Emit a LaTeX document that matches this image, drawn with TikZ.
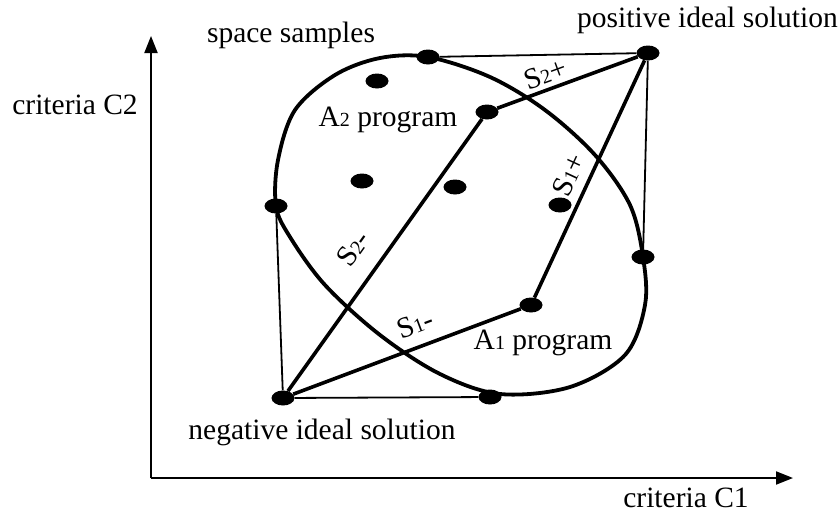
\documentclass[tikz,border=0pt]{standalone}
\usepackage{fontspec}
\setmainfont{Liberation Serif}
\usetikzlibrary{arrows.meta,shapes.geometric}

\newcommand{\idx}[1]{{\fontsize{20}{20}\selectfont #1}}

\begin{document}
\begin{tikzpicture}[
  x=1pt, y=-1pt,
  sample/.style={ellipse, fill=black, inner sep=0pt, minimum width=23pt, minimum height=15pt},
  lbl/.style={inner sep=0pt, font=\fontsize{29.5}{33}\selectfont},
  dist/.style={line width=3.6pt},
  hull/.style={line width=1.8pt},
  axis/.style={line width=2pt, -{Triangle[length=17pt,width=13pt]}}
]
\useasboundingbox (0,0) rectangle (840,515);

% axes
\coordinate (O) at (151,478);
\coordinate (xend) at (793,478);
\coordinate (yend) at (151,36);
\draw[axis] (O) -- (xend);
\draw[axis] (O) -- (yend);

% sample space boundary
\draw[line width=3.8pt] plot[smooth cycle, tension=0.55] coordinates {
  (428,57) (490,77) (545,110) (595,155) (630,205) (643,257) (645,305)
  (625,355) (570,387) (500,394) (440,374) (380,335) (325,285) (290,237)
  (276,206) (278,160) (295,110) (335,75) (380,58)};

% points
\node[sample] (pos) at (648,53) {};
\node[sample] (neg) at (283,398) {};
\node[sample] (top) at (428,57) {};
\node[sample] (left) at (276,206) {};
\node[sample] (right) at (643,257) {};
\node[sample] (bottom) at (490,397) {};
\node[sample] (prog2) at (487,112) {};
\node[sample] (prog1) at (531,305) {};
\node[sample] (s1) at (377,81) {};
\node[sample] (s2) at (362,181) {};
\node[sample] (s3) at (455,187) {};
\node[sample] (s4) at (560,205) {};

% box edges
\draw[hull] (top) -- (pos);
\draw[hull] (pos) -- (right);
\draw[hull] (left) -- (neg);
\draw[hull] (neg) -- (bottom);

% distances
\draw[dist] (prog2) -- node[lbl, pos=0.38, sloped, above=4pt] {S\idx{2}+} (pos);
\draw[dist] (prog1) -- node[lbl, pos=0.48, sloped, above=9pt] {S\idx{1}+} (pos);
\draw[dist] (neg) -- node[lbl, pos=0.46, sloped, above=18pt] {S\idx{2}-} (prog2);
\draw[dist] (neg) -- node[lbl, pos=0.57, sloped, above=11pt] {S\idx{1}-} (prog1);

% labels
\node[lbl] (c2lbl) at (75,105) {criteria C2};
\node[lbl] (c1lbl) at (686,498) {criteria C1};
\node[lbl] (space) at (291,35) {space samples};
\node[lbl, anchor=east] (poslbl) at (838,20) {positive ideal solution};
\node[lbl] (neglbl) at (322,432) {negative ideal solution};
\node[lbl] (a2lbl) at (388,120) {A\idx{2} program};
\node[lbl] (a1lbl) at (543,343) {A\idx{1} program};
\end{tikzpicture}
\end{document}
